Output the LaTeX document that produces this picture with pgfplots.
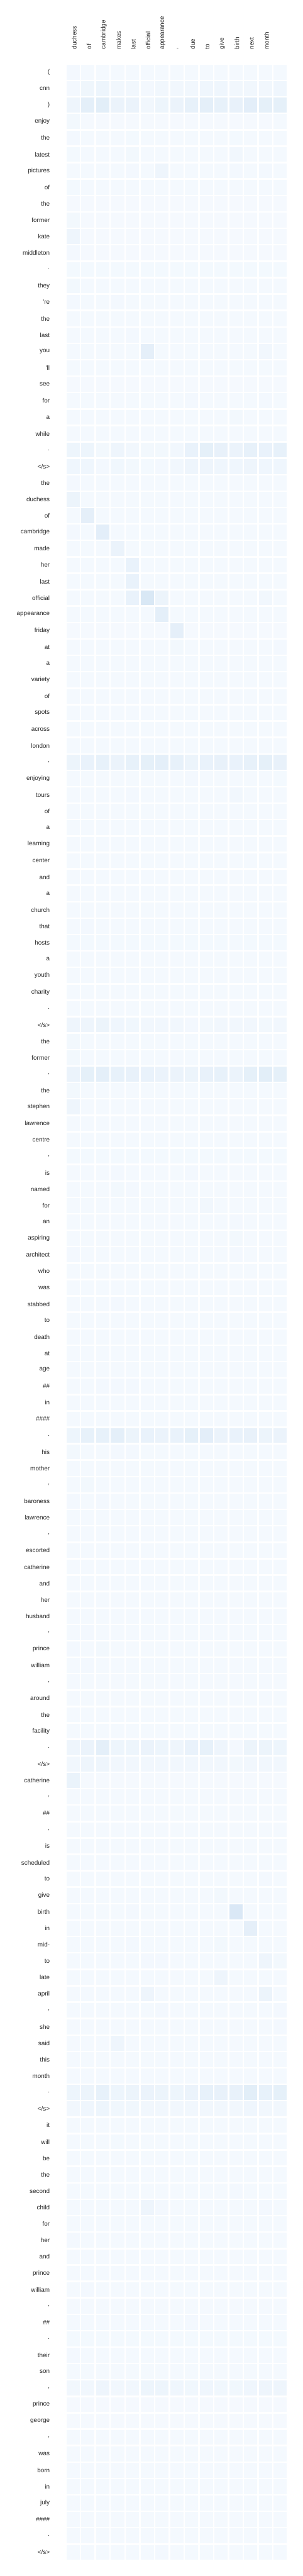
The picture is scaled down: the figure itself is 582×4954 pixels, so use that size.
\documentclass[border=0pt]{standalone}
\usepackage{fontspec}
\setmainfont{Liberation Sans}
\usepackage{pgfplots}
\usepackage{pgfplotstable}
\pgfplotsset{compat=1.18}
\definecolor{labelgray}{HTML}{262626}
\pgfdeclareplotmark{cell}{\pgfpathrectangle{\pgfpoint{-12.75pt}{-14.3pt}}{\pgfpoint{25.5pt}{28.6pt}}\pgfusepathqfill}

\pgfplotstableread{
c0 c1 c2 c3 c4 c5 c6 c7 c8 c9 c10 c11 c12 c13 c14
20 15 15 15 15 15 15 15 15 15 15 15 15 15 15
20 40 50 30 30 22 30 30 30 38 38 30 30 30 38
45 95 105 62 62 30 50 62 80 95 80 75 100 88 88
25 12 12 12 12 12 12 12 12 12 12 12 12 12 15
20 13 13 13 18 13 13 13 13 13 13 18 13 13 13
18 15 15 15 25 15 15 15 15 15 15 30 15 15 15
15 15 15 15 20 15 45 15 15 15 15 20 15 20 15
18 15 15 15 15 15 15 15 15 15 15 15 15 15 15
12 12 12 12 12 12 12 12 12 12 12 12 12 12 12
25 12 12 12 12 12 12 12 12 12 12 12 12 12 12
45 12 12 12 12 12 12 12 12 12 12 12 12 12 12
20 12 12 12 12 12 12 12 12 12 12 12 12 12 12
18 18 18 18 18 18 18 18 18 18 18 18 18 18 18
25 15 15 15 15 15 15 15 15 15 15 15 15 15 15
20 15 15 22 15 15 15 15 15 15 15 15 15 15 15
15 15 15 15 15 15 15 15 15 15 15 15 15 15 15
15 15 15 15 22 15 15 15 15 15 15 15 15 15 15
15 15 15 15 15 90 15 15 15 15 15 15 15 30 15
15 15 15 15 15 15 15 15 15 15 15 15 15 15 15
12 12 12 12 12 12 12 12 12 12 12 12 12 12 12
15 15 15 15 15 15 15 15 20 15 15 15 15 20 15
15 15 15 15 15 15 15 15 15 15 15 25 15 15 15
13 13 13 13 13 13 13 13 13 13 13 13 13 13 13
50 50 25 45 30 25 25 30 70 88 75 62 80 70 80
38 38 22 35 25 18 22 28 45 45 38 38 45 38 38
22 15 15 15 15 15 15 15 15 15 15 15 15 15 15
55 15 15 15 15 15 15 15 15 15 15 15 15 15 15
15 90 15 15 15 15 15 15 15 15 15 15 15 15 15
20 13 100 13 13 13 13 13 13 13 13 13 13 13 13
13 13 13 60 13 13 13 13 13 13 13 13 13 13 13
15 15 15 15 70 15 15 15 15 15 15 15 15 15 15
15 15 15 15 70 15 15 15 15 15 15 15 15 15 15
15 15 15 15 70 150 55 15 15 15 15 15 15 30 15
15 15 15 15 15 15 95 15 15 15 15 15 15 15 15
12 12 12 12 12 12 12 90 12 12 12 12 12 12 12
15 15 15 15 15 15 15 25 15 15 15 15 15 15 20
15 15 15 15 15 15 15 15 15 15 15 15 15 15 15
15 15 15 15 15 15 15 15 15 15 15 15 15 15 15
15 15 15 15 15 15 15 15 15 15 15 15 15 15 15
15 15 15 15 15 15 15 15 15 15 15 15 15 15 15
15 15 15 15 15 15 15 15 15 15 15 15 15 15 15
13 13 13 13 13 13 13 13 13 13 13 13 13 13 13
55 70 80 62 80 88 95 80 55 70 75 70 80 88 75
13 13 13 13 13 13 13 13 22 13 13 13 13 13 18
15 15 15 15 20 15 15 15 15 15 15 30 15 15 15
15 15 15 15 15 15 15 15 15 15 15 15 15 15 15
15 15 15 15 15 15 15 15 15 15 15 15 15 15 15
15 15 15 15 15 15 15 15 15 15 15 15 15 15 15
15 15 15 15 15 15 15 15 15 15 15 15 15 15 15
13 13 13 13 13 13 13 13 13 13 13 13 13 13 13
15 15 15 15 15 15 15 15 15 15 15 15 15 15 15
15 15 15 15 15 15 15 15 15 15 15 15 15 15 15
13 20 13 13 13 13 13 13 13 13 13 13 13 13 13
18 18 18 18 18 18 18 18 18 18 18 18 18 18 18
15 15 15 15 15 15 15 15 15 15 15 15 15 15 15
15 15 15 15 15 15 15 15 15 15 15 15 15 15 15
15 15 15 15 15 15 15 15 15 15 15 15 15 15 15
15 15 15 15 15 15 15 15 15 15 15 15 15 15 15
45 45 55 38 35 28 28 28 22 25 28 30 30 25 30
25 13 13 13 13 13 13 13 13 13 13 13 13 13 13
25 15 15 15 15 15 15 15 15 15 15 15 15 15 15
62 88 95 80 75 70 62 62 55 75 80 62 88 105 88
25 15 15 15 15 15 15 15 15 15 15 15 15 15 15
45 15 15 15 15 15 15 15 15 15 15 15 15 15 15
15 15 15 15 15 15 15 15 15 15 15 15 15 15 15
15 15 15 15 15 15 15 15 15 15 15 15 15 15 15
18 18 18 18 18 18 18 18 18 18 18 18 18 18 18
15 15 15 20 15 15 15 15 20 15 15 15 15 15 15
15 15 15 25 20 15 15 15 15 15 15 15 15 15 15
15 15 15 15 15 15 15 15 15 30 15 15 15 15 15
15 15 15 15 15 15 15 15 15 15 15 22 15 15 15
15 15 15 15 15 15 15 15 15 15 15 25 15 15 15
20 15 15 15 15 15 15 15 15 15 15 20 15 15 15
13 13 13 13 13 13 13 13 13 13 13 13 13 13 13
13 13 13 13 13 13 13 13 13 13 13 13 13 13 13
13 13 13 20 13 13 13 13 13 13 13 13 13 13 13
15 15 15 15 15 15 15 15 15 15 15 15 15 15 15
15 15 15 15 15 15 15 15 15 15 15 15 15 15 15
15 15 15 15 15 15 15 15 15 15 15 15 15 15 15
15 15 15 15 15 15 15 15 15 15 15 15 15 15 15
15 15 20 20 20 15 15 15 15 15 15 15 15 15 15
15 15 15 15 15 15 15 15 15 15 15 15 15 15 15
13 13 13 13 13 13 13 13 13 13 13 13 13 13 13
50 80 80 95 55 70 62 70 88 100 62 70 75 55 62
25 15 15 20 20 15 15 15 15 15 15 15 15 15 15
13 13 13 13 13 13 13 13 13 13 13 13 13 13 13
15 25 15 15 15 15 15 15 15 15 15 15 15 15 15
22 13 20 13 13 13 13 13 13 13 13 13 13 13 13
13 13 13 13 13 13 13 13 13 13 13 13 13 13 13
15 15 15 15 15 15 15 15 15 15 15 15 15 15 15
13 13 13 13 13 13 13 13 13 13 13 13 13 13 13
13 13 13 13 13 13 13 13 13 13 13 13 13 13 13
13 13 13 13 13 13 13 13 13 13 13 13 13 13 13
13 13 13 13 13 13 13 13 13 13 13 13 13 13 13
13 13 13 13 13 13 13 13 13 13 13 13 13 13 13
15 20 15 15 15 15 15 15 15 15 15 15 15 15 15
20 15 25 15 15 15 15 15 15 15 15 15 15 15 15
15 20 15 15 15 15 15 15 15 15 15 15 15 15 15
15 15 15 15 15 15 15 15 15 15 15 15 15 15 15
13 13 13 13 13 13 13 13 13 13 13 13 13 13 13
15 15 15 15 15 15 15 15 15 15 15 15 15 15 15
13 13 13 13 13 13 13 13 13 13 13 13 13 13 13
45 62 95 50 50 62 50 45 70 80 45 22 55 55 50
30 45 45 30 30 30 30 30 30 30 28 25 28 28 28
65 12 12 12 12 12 12 12 12 12 12 12 12 12 12
15 15 15 15 15 15 15 15 15 15 15 15 15 15 15
15 15 15 15 15 15 15 15 15 15 15 15 15 15 15
15 15 15 15 15 15 15 15 15 15 15 15 15 15 15
15 15 15 15 15 15 15 15 15 15 15 15 15 15 15
15 15 15 15 15 15 15 15 15 15 15 15 15 15 15
15 15 15 15 15 15 15 15 15 15 15 15 15 20 15
15 15 15 15 15 15 15 15 15 15 25 15 15 15 15
15 15 15 15 22 15 15 15 15 15 15 145 15 15 15
15 15 15 15 15 15 15 15 15 15 15 15 90 15 15
15 15 15 15 20 15 15 15 15 15 25 15 15 15 15
15 15 15 15 15 20 20 15 15 15 15 15 15 45 25
15 15 15 15 15 15 15 15 15 15 45 15 15 15 15
15 15 15 15 15 45 15 15 15 15 15 15 15 55 15
15 15 15 15 15 15 20 15 15 15 15 15 15 15 22
15 15 15 15 15 15 15 15 15 15 15 15 15 15 20
15 15 15 45 15 15 15 15 15 15 15 15 15 15 15
15 15 15 15 15 15 15 15 15 15 15 15 15 15 15
15 15 15 15 15 15 15 15 15 15 15 15 15 15 15
50 55 80 50 55 62 55 50 62 80 75 75 105 80 88
30 38 50 35 35 30 30 30 28 28 28 30 38 30 28
13 13 13 13 13 13 13 13 13 13 13 13 13 13 13
13 13 13 18 13 13 13 13 13 13 13 13 13 13 13
13 13 13 13 13 13 13 13 13 13 13 13 13 13 13
13 13 13 13 13 13 13 13 13 13 13 13 13 13 13
15 15 15 15 15 15 15 15 15 15 15 20 15 15 15
13 13 13 13 13 45 22 13 13 13 13 13 13 20 13
15 15 15 15 15 15 15 15 15 15 15 15 15 15 15
22 13 13 13 13 13 13 13 13 13 13 13 13 13 13
15 15 15 15 15 15 15 15 15 15 15 15 15 15 15
15 15 15 15 15 15 15 15 15 15 15 15 15 15 15
15 20 15 15 15 15 15 15 15 15 15 15 15 15 15
15 15 15 15 15 15 15 15 15 15 15 15 15 15 15
15 15 15 15 15 15 15 15 20 15 15 15 15 15 15
18 18 18 18 18 18 18 18 18 18 18 18 18 18 18
20 15 15 15 15 15 15 15 15 15 15 15 15 15 15
15 15 15 15 15 15 15 15 15 15 15 15 15 15 15
30 28 45 30 30 50 50 38 35 38 35 35 38 45 45
12 12 12 12 12 12 12 12 12 12 12 12 12 12 12
12 12 12 12 12 12 12 12 12 12 12 12 12 12 12
15 15 15 15 15 15 15 15 15 15 15 15 15 15 15
13 13 13 13 13 13 13 13 13 13 13 13 13 13 13
13 13 13 13 13 13 13 13 13 13 13 13 13 13 13
15 15 15 15 15 15 15 15 15 15 15 15 15 15 15
13 13 13 13 13 13 13 13 13 13 13 13 13 13 13
15 15 15 15 15 15 15 15 15 15 15 15 15 15 15
15 15 15 15 15 15 15 15 15 15 15 15 15 15 15
15 15 15 15 15 15 22 15 15 15 15 15 15 15 15
}\attn

\begin{document}
\begin{tikzpicture}
\useasboundingbox (0,0) rectangle (582pt,-4954pt);
\begin{axis}[
  at={(126.5pt,-123.2pt)}, anchor=north west,
  scale only axis, width=427pt, height=4801pt,
  xmin=-0.5, xmax=14.5, ymin=-0.5, ymax=151.5,
  y dir=reverse, clip=false,
  axis line style={draw=none}, major tick length=0pt, tick style={draw=none},
  colormap={blues}{rgb255=(247,251,255) rgb255=(222,235,247) rgb255=(198,219,239) rgb255=(158,202,225) rgb255=(107,174,214) rgb255=(66,146,198) rgb255=(33,113,181) rgb255=(8,81,156) rgb255=(8,48,107)},
  point meta min=0, point meta max=1000,
  xtick={0,...,14}, ytick={0,...,151},
  xticklabel pos=right,
  xticklabels={{duchess},{of},{cambridge},{makes},{last},{official},{appearance},{,},{due},{to},{give},{birth},{next},{month},{}},
  yticklabels={{(},{cnn},{)},enjoy,the,latest,pictures,of,the,former,kate,middleton,{.},they,{\textquotesingle re},the,last,you,{\textquotesingle ll},see,for,a,while,{.},{</s>},the,duchess,of,cambridge,made,her,last,official,appearance,friday,at,a,variety,of,spots,across,london,{,},enjoying,tours,of,a,learning,center,and,a,church,that,hosts,a,youth,charity,{.},{</s>},the,former,{,},the,stephen,lawrence,centre,{,},is,named,for,an,aspiring,architect,who,was,stabbed,to,death,at,age,{\#\#},in,{\#\#\#\#},{.},his,mother,{,},baroness,lawrence,{,},escorted,catherine,and,her,husband,{,},prince,william,{,},around,the,facility,{.},{</s>},catherine,{,},{\#\#},{,},is,scheduled,to,give,birth,in,{mid-},to,late,april,{,},she,said,this,month,{.},{</s>},it,will,be,the,second,child,for,her,and,prince,william,{,},{\#\#},{.},their,son,{,},prince,george,{,},was,born,in,july,{\#\#\#\#},{.},{</s>}},
  xticklabel style={xshift=2pt, rotate=90, anchor=west, inner sep=0pt, text=labelgray, font=\fontsize{12}{14}\selectfont},
  yticklabel style={anchor=east, inner sep=0pt, text=labelgray, font=\fontsize{12}{14}\selectfont},
  xticklabel shift=28.2pt, yticklabel shift=30.6pt,
]
\pgfplotsinvokeforeach{0,...,14}{
  \addplot[scatter, only marks, mark=cell, point meta=explicit]
    table[x expr=#1, y expr=\coordindex, meta=c#1] {\attn};
}
\end{axis}
\end{tikzpicture}
\end{document}
